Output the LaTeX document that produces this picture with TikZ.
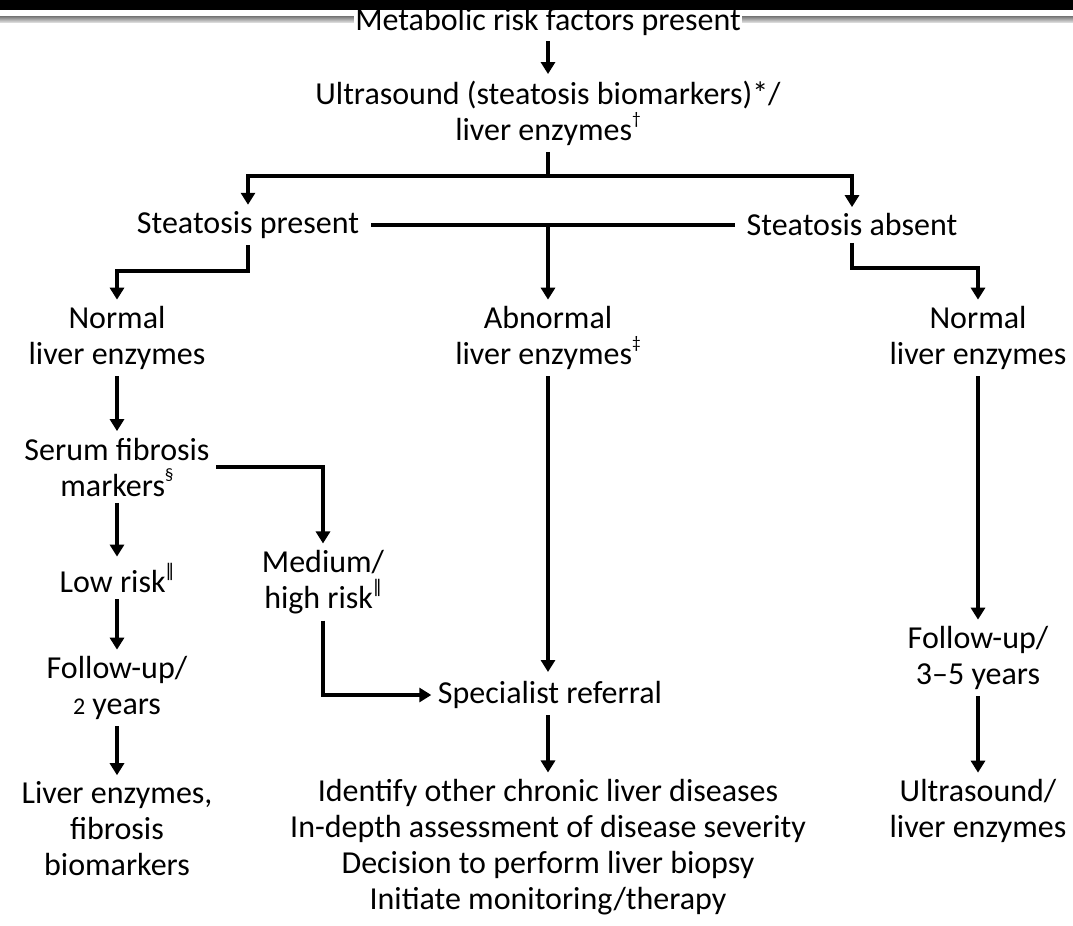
\documentclass[tikz,border=0pt]{standalone}
\usepackage{fontspec}
\setmainfont{Carlito}
\newfontfamily\symf{DejaVu Sans}
\usetikzlibrary{arrows.meta}
\newcommand\mysup[1]{\raisebox{0.5em}{\fontsize{13}{13}\selectfont #1}}
\newcommand\dbar{\mysup{\symf\char"2016}}
\newcommand\osnum[1]{{\fontsize{18}{18}\selectfont #1}}
\tikzset{
  x=0.75pt, y=-0.75pt,
  txt/.style={align=center, inner sep=0pt, outer sep=5pt,
    font=\fontsize{24}{27}\selectfont},
  ln/.style={line width=2.3pt, line join=miter},
  arr/.style={ln, -{Triangle[width=10.5pt,length=9pt]}},
}
\begin{document}
\begin{tikzpicture}
\useasboundingbox (0,0) rectangle (1073,925);
% header decoration
\shade[top color=black!55, bottom color=black!15] (0,16) rectangle (1073,22);
\node[txt, fill=white, inner xsep=1pt, outer sep=4pt] (met) at (548,22) {Metabolic risk factors present};
\fill[black] (0,0) rectangle (1073,10);
% nodes
\node[txt] (us) at (548,113) {Ultrasound (steatosis biomarkers)*/\\liver enzymes\mysup{†}};
\node[txt] (sp) at (248,225) {Steatosis present};
\node[txt] (sa) at (852,225) {Steatosis absent};
\node[txt] (nl) at (117,338) {Normal\\liver enzymes};
\node[txt] (al) at (548,338) {Abnormal\\liver enzymes\mysup{‡}};
\node[txt] (nr) at (978,338) {Normal\\liver enzymes};
\node[txt] (sf) at (117,467) {Serum fibrosis\\markers\mysup{§}};
\node[txt] (lr) at (117,578) {Low risk\dbar};
\node[txt] (mh) at (323,582) {Medium/\\high risk\dbar};
\node[txt] (fu2) at (117,688) {Follow-up/\\\osnum{2} years};
\node[txt] (spr) at (550,695) {Specialist referral};
\node[txt] (list) at (548,847) {Identify other chronic liver diseases\\In-depth assessment of disease severity\\Decision to perform liver biopsy\\Initiate monitoring/therapy};
\node[txt] (le) at (117,829) {Liver enzymes,\\fibrosis\\biomarkers};
\node[txt] (fu3) at (978,658) {Follow-up/\\3–5 years};
\node[txt] (ul) at (978,811) {Ultrasound/\\liver enzymes};
% junction coordinates
\coordinate (jt) at (548,176);
\coordinate (jl) at (117,271);
\coordinate (jr) at (978,268);
\coordinate (jm) at (548,224);
\coordinate (jsr) at (548,672);
% connectors
\draw[arr] (met) -- (us);
\draw[arr] (us) -- (jt) -| (sp);
\draw[arr] (jt) -| (sa);
\draw[ln, shorten <=4pt, shorten >=4pt] (sp) -- (sa);
\draw[arr] (jm) -- (al);
\draw[arr] (sp) |- (jl) -- (nl);
\draw[arr] (sa) |- (jr) -- (nr);
\draw[arr] (nl) -- (sf);
\draw[arr] (sf) -- (lr);
\draw[arr] (lr) -- (fu2);
\draw[arr] (fu2) -- (le);
\draw[arr] (sf) -| (mh);
\draw[arr] (mh) |- (spr);
\draw[arr] (al) -- (jsr);
\draw[arr] (spr.south -| jsr) -- (list);
\draw[arr] (nr) -- (fu3);
\draw[arr] (fu3) -- (ul);
\end{tikzpicture}
\end{document}
